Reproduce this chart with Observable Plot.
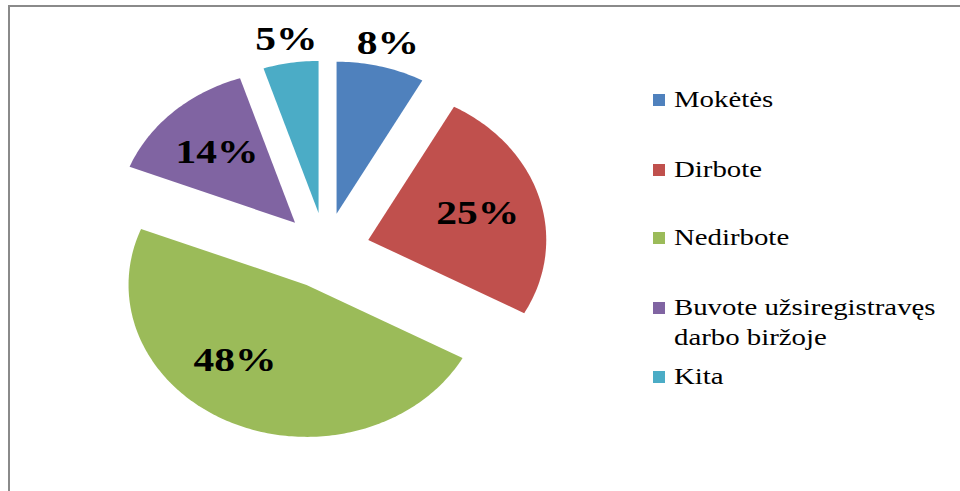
<!DOCTYPE html>
<html>
<head>
<meta charset="utf-8">
<script src="https://cdn.jsdelivr.net/npm/d3@7"></script>
<script src="https://cdn.jsdelivr.net/npm/@observablehq/plot@0.6"></script>
<style>
  html, body { margin: 0; padding: 0; background: #fff; }
  #wrap { position: relative; width: 960px; height: 491px; overflow: hidden; }
  #frame { position: absolute; left: 8px; top: 5px; width: 1000px; height: 600px;
           border-left: 2px solid #8a8a8a; border-top: 2px solid #8a8a8a; box-sizing: border-box; }
  #chart { position: absolute; left: 0; top: 0; }
</style>
</head>
<body>
<div id="wrap">
  <div id="frame"></div>
  <div id="chart"></div>
  <div id="legend"></div>
</div>
<script>
const categories = ["Mokėtės", "Dirbote", "Nedirbote", "Buvote užsiregistravęs darbo biržoje", "Kita"];
const legendLines = [["Mokėtės"], ["Dirbote"], ["Nedirbote"], ["Buvote užsiregistravęs", "darbo biržoje"], ["Kita"]];
const values = [8, 25, 48, 14, 5];
const labels = ["8%", "25%", "48%", "14%", "5%"];
const colors = ["#4F81BD", "#C0504D", "#9BBB59", "#8064A2", "#4BACC6"];

const W = 960, H = 491;
const CX = 325, CY = 250, RX = 178, RY = 152;
const EXPLODE = 0.25;

const arcs = d3.pie().sort(null).value(d => d)(values);

const slicePts = [];
const labelPts = [];
arcs.forEach((a, i) => {
  const mid = (a.startAngle + a.endAngle) / 2;
  const ox = EXPLODE * Math.sin(mid), oy = EXPLODE * Math.cos(mid);
  slicePts.push({cat: categories[i], x: ox, y: oy});
  const n = Math.max(2, Math.ceil((a.endAngle - a.startAngle) / (Math.PI / 180)));
  for (let k = 0; k <= n; k++) {
    const t = a.startAngle + (a.endAngle - a.startAngle) * k / n;
    slicePts.push({cat: categories[i], x: ox + Math.sin(t), y: oy + Math.cos(t)});
  }
  slicePts.push({cat: categories[i], x: ox, y: oy});
  const small = values[i] < 10;
  const lr = small ? 1.16 : 0.64;
  // largest slice: Excel's best-fit nudges its label toward the lower-left
  const la = values[i] === d3.max(values) ? mid + 0.24 : mid;
  labelPts.push({label: labels[i], x: ox + lr * Math.sin(la), y: oy + lr * Math.cos(la)});
});

const plot = Plot.plot({
  width: W, height: H,
  margin: 0,
  x: {domain: [-CX / RX, (W - CX) / RX], range: [0, W], axis: null},
  y: {domain: [-(H - CY) / RY, CY / RY], range: [H, 0], axis: null},
  color: {domain: categories, range: colors},
  style: {background: "transparent"},
  marks: [
    Plot.line(slicePts, {x: "x", y: "y", z: "cat", fill: "cat", stroke: "none", curve: "linear"}),
    Plot.text(labelPts, {x: "x", y: "y", text: "label", fontSize: 34, fontWeight: "bold",
      fontFamily: "Liberation Serif", fill: "#000"})
  ]
});
document.getElementById("chart").appendChild(plot);

// stretch label glyphs horizontally like the reference (keep Plot's translate)
plot.querySelectorAll('g[aria-label="text"] text').forEach(t => {
  const tr = t.getAttribute("transform") || "";
  t.setAttribute("transform", tr + " scale(1.22,1)");
});

// legend
const legendCenters = [100, 170, 238, 308, 377];
const lg = document.getElementById("legend");
categories.forEach((c, i) => {
  const top = legendCenters[i];
  const sw = document.createElement("div");
  sw.setAttribute("style", `position:absolute;left:653px;top:${top - 6}px;width:12px;height:12px;background:${colors[i]}`);
  const tx = document.createElement("div");
  tx.setAttribute("style", `position:absolute;left:674px;top:${top - 16}px;font-family:'Liberation Serif';font-size:24px;line-height:30px;color:#000;white-space:nowrap;transform:scaleX(1.2);transform-origin:left center`);
  tx.innerHTML = legendLines[i].join("<br>");
  lg.appendChild(sw);
  lg.appendChild(tx);
});
</script>
</body>
</html>
